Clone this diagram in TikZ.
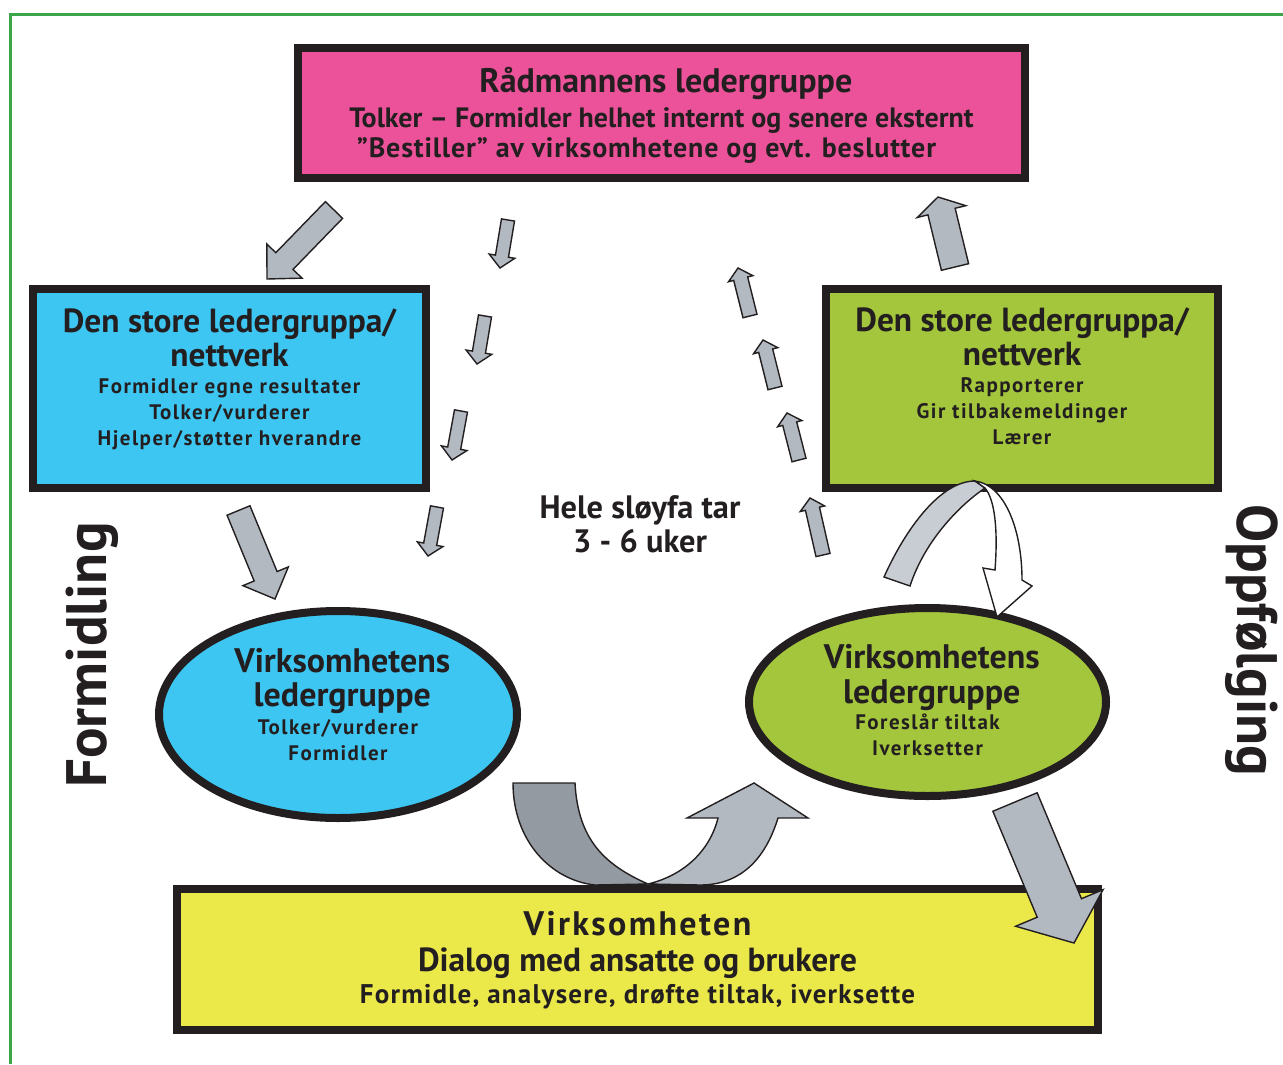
\documentclass[tikz,border=0pt]{standalone}
\usepackage{fontspec}
\setmainfont{PT Sans}
\usetikzlibrary{calc,shapes.geometric,positioning}

\definecolor{ink}{RGB}{35,31,32}
\definecolor{rmpink}{RGB}{236,82,153}
\definecolor{skyblue}{RGB}{62,198,242}
\definecolor{leafgreen}{RGB}{164,198,60}
\definecolor{lemon}{RGB}{235,232,74}
\definecolor{framegreen}{RGB}{59,165,73}
\definecolor{arrowgray}{RGB}{179,185,193}
\definecolor{darkgray}{RGB}{147,154,161}
\definecolor{palegray}{RGB}{200,204,211}

\newcommand{\ttl}[1][16.7]{\normalfont\bfseries\fontsize{#1}{17}\selectfont}
\newcommand{\spaced}[1][7]{\addfontfeatures{LetterSpace=#1}}

\tikzset{
  box/.style={draw=ink, line width=4pt, rectangle, inner sep=0pt},
  oval/.style={draw=ink, line width=4pt, ellipse, inner sep=0pt},
  txt/.style={align=center, inner sep=0pt},
  subfont/.style={font=\bfseries\fontsize{10.5}{#1}\selectfont\spaced},
  blockarr/.style={draw=ink, line width=0.7pt, line join=miter},
  frame/.style={draw=framegreen, line width=1.5pt}
}

% block arrow: [fill] {tail} {tip} {shaft half width} {head half width} {head length}
\newcommand{\blockarrow}[6][arrowgray]{%
  \coordinate (baBase) at ($(#3)!#6!(#2)$);
  \draw[blockarr, fill=#1] ($(#2)!#4!90:(#3)$) -- ($(baBase)!#4!90:(#3)$)
    -- ($(baBase)!#5!90:(#3)$) -- (#3) -- ($(baBase)!#5!-90:(#3)$)
    -- ($(baBase)!#4!-90:(#3)$) -- ($(#2)!#4!-90:(#3)$) -- cycle;
}

\begin{document}
\begin{tikzpicture}[x=0.5pt, y=-0.5pt, font=\bfseries, text=ink]
\useasboundingbox (0,0) rectangle (1283,1064);
\draw[frame] (10,1064) -- (10,15) -- (1283,15);

% boxes
\node[box, fill=rmpink, minimum width=363.5pt, minimum height=65pt] (rad) at (661.5,113) {};
\node[box, fill=skyblue, minimum width=196.5pt, minimum height=99.5pt] (netL) at (229.5,388.5) {};
\node[box, fill=leafgreen, minimum width=196pt, minimum height=99.5pt] (netR) at (1022,388.5) {};
\node[oval, fill=skyblue, minimum width=179pt, minimum height=103.5pt] (virkL) at (338,714.5) {};
\node[oval, fill=leafgreen, minimum width=178.5pt, minimum height=94pt] (virkR) at (927.5,702) {};
\node[box, fill=lemon, minimum width=460.5pt, minimum height=70.5pt] (virk) at (637.5,959.5) {};

% big arrows
\blockarrow{334,210}{267,279}{6pt}{12.25pt}{12.5pt}
\blockarrow{955,267}{938,197}{7pt}{12.5pt}{7.5pt}
\blockarrow{238.5,510.5}{275,599}{6.2pt}{12.3pt}{12.3pt}
\blockarrow{1015,802}{1074,943}{12pt}{23.7pt}{19pt}

% the loop, down and up
\foreach \tx/\ty/\hx/\hy in {508/220/500/268, 485/316/477/364, 461/411/452/460, 437/507/428/556}
  {\blockarrow{\tx,\ty}{\hx,\hy}{3.3pt}{6.5pt}{6pt}}
\foreach \tx/\ty/\hx/\hy in {750/316/738/268, 775/388/763/340, 799/460/787/413, 823/555/810/498}
  {\blockarrow{\tx,\ty}{\hx,\hy}{3.6pt}{6.25pt}{5.5pt}}

% u-turn at the bottom
\draw[blockarr, fill=darkgray] (513,783) -- (575,783)
  .. controls (578,840) and (605,865) .. (648,884) -- (595,885)
  .. controls (550,880) and (513,840) .. (513,783) -- cycle;
\draw[blockarr, fill=arrowgray] (648,884)
  .. controls (685,875) and (710,850) .. (718,818) -- (687,818) -- (754,783)
  -- (808,818) -- (778,818) .. controls (765,860) and (740,885) .. (700,885) -- cycle;

% turn from the network back to the group
\draw[blockarr, fill=palegray] (884,577) .. controls (905,530) and (940,481) .. (975,481)
  -- (985,488) .. controls (960,505) and (925,540) .. (910,586) -- cycle;
\draw[blockarr, fill=white] (975,481) .. controls (1005,485) and (1022,530) .. (1022,580)
  -- (1032,586) -- (997,617) -- (983,568) -- (995,570)
  .. controls (998,530) and (995,500) .. (985,488) -- cycle;

% texts
\node[txt, font=\bfseries\fontsize{14}{17.5}\selectfont] (radT) at ([yshift=-1pt]rad.center)
  {{\ttl[17] Rådmannens ledergruppe}\\ Tolker – Formidler helhet internt og senere eksternt\\[-2.5pt]
   {\spaced[3]”Bestiller” av virksomhetene og evt. beslutter}\kern15pt};
\node[txt, subfont=17] (netLT) at ([yshift=4.5pt]netL.center)
  {{\ttl Den store ledergruppa/}\\ {\ttl nettverk}\\[-3.5pt] Formidler egne resultater\\[-4pt]
   Tolker/vurderer\\[-4pt] Hjelper/støtter hverandre};
\node[txt, subfont=17] (netRT) at ([yshift=6pt]netR.center)
  {{\ttl Den store ledergruppa/}\\ {\ttl nettverk}\\[-3.5pt] Rapporterer\\[-4pt]
   Gir tilbakemeldinger\\[-4pt] Lærer};
\node[txt, subfont=17] (virkLT) at ([yshift=5pt]virkL.center)
  {{\ttl[17] Virksomhetens}\\ {\ttl[17] ledergruppe}\\[-3pt] Tolker/vurderer\\[-4pt] Formidler};
\node[txt, subfont=17.5] (virkRT) at ([yshift=1pt]virkR.center)
  {{\ttl[17] Virksomhetens}\\ {\ttl[17] ledergruppe}\\[-4.5pt] Foreslår tiltak\\[-4.5pt] Iverksetter};
\node[txt, font=\bfseries\fontsize{13.5}{18}\selectfont] (virkT) at ([yshift=-0.5pt]virk.center)
  {{\ttl[17]\spaced Virksomheten}\\ {\ttl[16.7]Dialog med ansatte og brukere}\\[-2pt]
   {\spaced[4.5]Formidle, analysere, drøfte tiltak, iverksette}};
\node[txt, font=\bfseries\fontsize{16.2}{17}\selectfont] (hele) at (640,524) {Hele sløyfa tar\\ 3 - 6 uker};
\node[rotate=90, font=\bfseries\fontsize{28.5}{30}\selectfont] (formid) at (92,655) {Formidling};
\node[rotate=-90, font=\bfseries\fontsize{28.5}{30}\selectfont] (oppf) at (1252,640) {Oppfølging};
\end{tikzpicture}
\end{document}
